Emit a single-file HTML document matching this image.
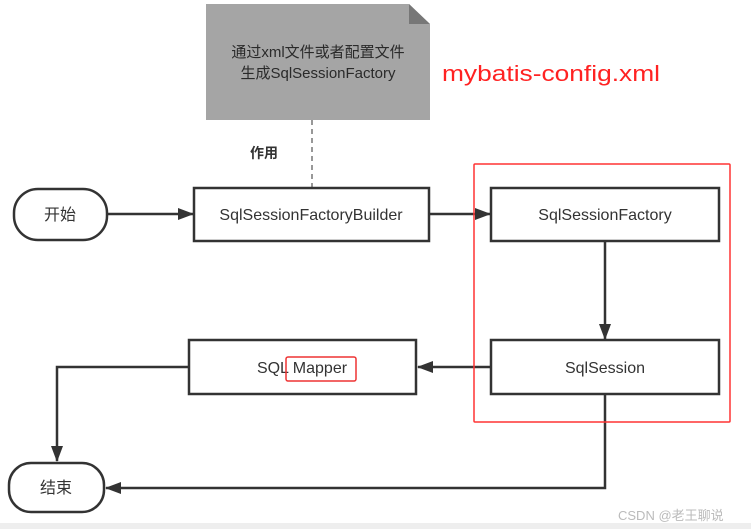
<!DOCTYPE html>
<html><head><meta charset="utf-8"><style>
body{margin:0;width:751px;height:529px;background:#fff;overflow:hidden}
svg{display:block}
text{font-family:"Liberation Sans","Noto Sans CJK SC",sans-serif}
</style></head><body>
<svg width="751" height="529" viewBox="0 0 751 529">
<defs><marker id="b" markerWidth="16" markerHeight="12" refX="15" refY="6" orient="auto" markerUnits="userSpaceOnUse"><path d="M0,0 L16,6 L0,12 Z" fill="#333"/></marker></defs>
<rect x="0" y="523" width="751" height="6" fill="#eee"/>
<path d="M206,4 H409 L430,24 V120 H206 Z" fill="#a5a5a5"/>
<path d="M409,4 L430,24 H409 Z" fill="#777"/>
<text x="318" y="57" font-size="15" fill="#2a2a2a" text-anchor="middle">通过xml文件或者配置文件</text>
<text x="318" y="78" font-size="15" fill="#2a2a2a" text-anchor="middle">生成SqlSessionFactory</text>
<text x="442" y="81" font-size="22" fill="#f22" textLength="218" lengthAdjust="spacingAndGlyphs">mybatis-config.xml</text>
<line x1="312" y1="120" x2="312" y2="187" stroke="#777" stroke-width="1.5" stroke-dasharray="5,4"/>
<text x="250" y="158" font-size="14" font-weight="bold" fill="#333">作用</text>
<rect x="14" y="189" width="93" height="51" rx="24" fill="#fff" stroke="#333" stroke-width="2.5"/>
<text x="60" y="220" font-size="16" fill="#333" text-anchor="middle">开始</text>
<line x1="107" y1="214" x2="193" y2="214" stroke="#333" stroke-width="2.5" marker-end="url(#b)"/>
<rect x="194" y="188" width="235" height="53" fill="#fff" stroke="#333" stroke-width="2.5"/>
<text x="311" y="220" font-size="16" fill="#333" text-anchor="middle">SqlSessionFactoryBuilder</text>
<line x1="429" y1="214" x2="490" y2="214" stroke="#333" stroke-width="2.5" marker-end="url(#b)"/>
<rect x="491" y="188" width="228" height="53" fill="#fff" stroke="#333" stroke-width="2.5"/>
<text x="605" y="220" font-size="16" fill="#333" text-anchor="middle">SqlSessionFactory</text>
<line x1="605" y1="241" x2="605" y2="339" stroke="#333" stroke-width="2.5" marker-end="url(#b)"/>
<rect x="491" y="340" width="228" height="54" fill="#fff" stroke="#333" stroke-width="2.5"/>
<text x="605" y="373" font-size="16" fill="#333" text-anchor="middle">SqlSession</text>
<line x1="491" y1="367" x2="418" y2="367" stroke="#333" stroke-width="2.5" marker-end="url(#b)"/>
<rect x="189" y="340" width="227" height="54" fill="#fff" stroke="#333" stroke-width="2.5"/>
<text x="302" y="373" font-size="16" fill="#333" text-anchor="middle">SQL Mapper</text>
<rect x="286" y="357" width="70" height="24" fill="none" stroke="#e33" stroke-width="1.5" rx="2"/>
<polyline points="189,367 57,367 57,461" fill="none" stroke="#333" stroke-width="2.5" marker-end="url(#b)"/>
<rect x="9" y="463" width="95" height="49" rx="22" fill="#fff" stroke="#333" stroke-width="2.5"/>
<text x="56" y="493" font-size="16" fill="#333" text-anchor="middle">结束</text>
<polyline points="605,394 605,488 106,488" fill="none" stroke="#333" stroke-width="2.5" marker-end="url(#b)"/>
<rect x="474" y="164" width="256" height="258" fill="none" stroke="#f33" stroke-width="1.5" rx="1"/>
<text x="618" y="520" font-size="13" fill="#bbb">CSDN @老王聊说</text>
</svg>
</body></html>
